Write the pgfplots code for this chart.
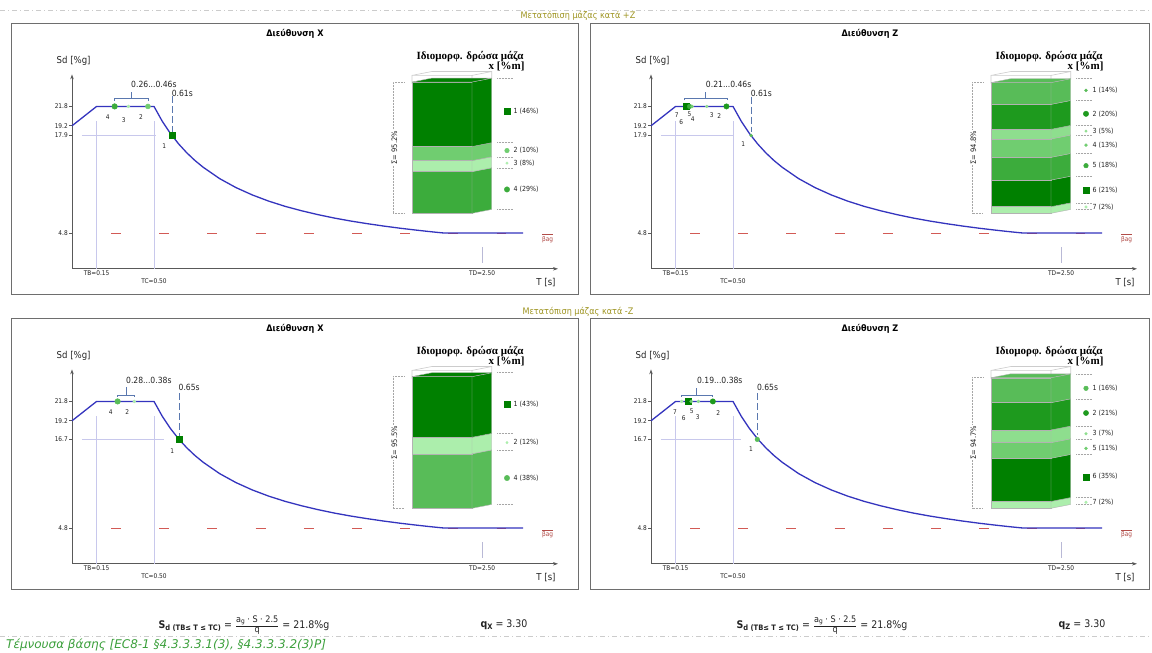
\documentclass[border=0pt]{standalone}
\usepackage{pgfplots}
\pgfplotsset{compat=1.18}
\usepackage{pgfplotstable}
\usepackage{fontspec}
\setmainfont{DejaVu Sans}[FakeStretch=0.9]
\newfontfamily\dvs{DejaVu Sans}
\newfontfamily\serifbf{Liberation Serif}
\usetikzlibrary{arrows.meta}

\definecolor{cblue}{RGB}{52,52,190}
\definecolor{clav}{RGB}{200,200,236}
\definecolor{cred}{RGB}{210,90,85}
\definecolor{ctxt}{RGB}{35,35,35}
\definecolor{colive}{RGB}{158,148,32}
\definecolor{cgreentxt}{RGB}{60,160,60}
\definecolor{cframe}{RGB}{110,110,110}
\definecolor{csteel}{RGB}{90,120,175}
\definecolor{G1}{RGB}{0,128,0}
\definecolor{G2}{RGB}{30,154,30}
\definecolor{G3}{RGB}{60,172,60}
\definecolor{G4}{RGB}{88,188,88}
\definecolor{G5}{RGB}{112,205,112}
\definecolor{G6}{RGB}{142,222,142}
\definecolor{G7}{RGB}{172,238,172}

\newcommand\fs[1]{\fontsize{#1}{#1}\selectfont}

\pgfplotstableread{
T Sd
0 19.2
0.15 21.8
0.5 21.8
0.55 19.82
0.6 18.17
0.65 16.77
0.7 15.57
0.75 14.53
0.8 13.63
0.9 12.11
1.0 10.9
1.1 9.91
1.2 9.08
1.3 8.38
1.4 7.79
1.5 7.27
1.6 6.81
1.7 6.41
1.8 6.06
1.9 5.74
2.0 5.45
2.1 5.19
2.2 4.95
2.27 4.8
2.75 4.8
}\curvedata

\pgfplotsset{
 mainax/.style={scale only axis, anchor=south west, width=486pt, height=194.4pt,
   xmin=0, xmax=2.963, ymin=0, ymax=26.1, axis lines=left,
   axis line style={draw=black!65, line width=0.8pt},
   x axis line style={-{Stealth[length=5pt,width=3.5pt]}},
   y axis line style={-{Stealth[length=5pt,width=3.5pt]}},
   xtick=\empty, tick align=outside, major tick length=3pt,
   tick style={draw=black!65, line width=0.6pt},
   yticklabel style={font=\fs{6.5}, text=ctxt, inner sep=1pt},
   /pgf/number format/assume math mode=true, clip=false},
 barax/.style={scale only axis, anchor=south west, width=100pt, height=137.9pt,
   xmin=0, xmax=100, ymin=0, ymax=100, hide axis, clip=false},
}

\newcommand\maincommon[2]{%
 \addplot[cred, line width=1.1pt, dash pattern=on 10pt off 38.2pt] coordinates {(0.238,4.8) (2.646,4.8)};
 \draw[clav, line width=0.8pt] (axis cs:0.15,0) -- (axis cs:0.15,19.8);
 \draw[clav, line width=0.8pt] (axis cs:0.5,0) -- (axis cs:0.5,19.8);
 \draw[clav, line width=0.8pt] (axis cs:0.06,#1) -- (axis cs:#2,#1);
 \draw[clav!80!gray, line width=1pt] (axis cs:2.5,0.8) -- (axis cs:2.5,2.9);
 \addplot[cblue, line width=1.3pt, line join=round] table {\curvedata};
 \node[font=\fs{6.5}, text=ctxt] at (axis cs:0.15,-0.6) {TB=0.15};
 \node[font=\fs{6.5}, text=ctxt] at (axis cs:0.5,-1.65) {TC=0.50};
 \node[font=\fs{6.5}, text=ctxt] at (axis cs:2.5,-0.6) {TD=2.50};
 \node[font=\fs{9.5}, text=ctxt] at (axis cs:2.89,-1.87) {T [s]};
 \node[font=\fs{9.5}, text=ctxt] at (axis cs:0.01,27.9) {Sd [\%g]};
 \node[text=cred!85!black, font=\fs{6.5}] at (axis cs:2.90,4.1) {$\overline{\hbox{βag}}$};
}
\newcommand\ml[3]{\node[font=\fs{6.5}, text=ctxt, inner sep=0pt] at (axis cs:#1,#2) {#3};}
\newcommand\bracket[6]{%
 \draw[csteel, line width=0.7pt] (axis cs:#1,#4) -- (axis cs:#1,#3) -- (axis cs:#2,#3) -- (axis cs:#2,#4) (axis cs:#5,#3) -- (axis cs:#5,#6);
}
\newcommand\tdash[3]{\draw[csteel, line width=0.7pt, dash pattern=on 7pt off 3pt] (axis cs:#1,#2) -- (axis cs:#1,#3);}
\newcommand\mk[4]{\addplot[only marks, mark=#1, mark size=#2, color=#3] coordinates {#4};}

\newcommand\seg[5]{%
 \addplot[fill=#5, draw=black!30, line width=0.4pt] coordinates {(0,#1) (60,#1) (60,#2) (0,#2) (0,#1)};
 \addplot[fill=#5, draw=black!30, line width=0.4pt] coordinates {(60,#1) (79.7,#3) (79.7,#4) (60,#2) (60,#1)};
}
\newcommand\topface[3]{%
 \addplot[fill=#3, draw=black!30, line width=0.4pt] coordinates {(0,#1) (60,#1) (79.7,#2) (19.7,#2) (0,#1)};
}
\newcommand\leg[5]{%
 \addplot[only marks, mark=#2, mark size=#3, color=#4] coordinates {(95,#1)};
 \node[anchor=west, font=\fs{7}, text=ctxt, inner sep=0pt] at (axis cs:101.5,#1) {#5};
}
\newcommand\sep[1]{\draw[black!35, densely dotted, line width=0.5pt] (axis cs:85,#1) -- (axis cs:101,#1);}
\newcommand\wire{%
 \draw[black!20, line width=0.6pt] (axis cs:0,94) -- (axis cs:0,100) -- (axis cs:60,100) -- (axis cs:60,94) (axis cs:60,100) -- (axis cs:79.7,102.8) -- (axis cs:79.7,97) (axis cs:0,100) -- (axis cs:19.7,102.8) -- (axis cs:79.7,102.8);
}
\newcommand\sigmabr[2]{%
 \draw[black!35, densely dotted, line width=0.5pt] (axis cs:-8,#1) -- (axis cs:-19,#1) -- (axis cs:-19,0) -- (axis cs:-8,0);
 \node[rotate=90, fill=white, inner sep=0.8pt, font=\fs{7.5}, text=ctxt] at (axis cs:-17.5,47.5) {#2};
}
\newcommand\bartitle[2]{%
 \node[font=\serifbf\bfseries\fs{11}, text=black] at (#1pt,#2pt) {Ιδιομορφ. δρώσα μάζα};
}
\newcommand\barsub[2]{%
 \node[font=\serifbf\bfseries\fs{11}, text=black, anchor=east] at (#1pt,#2pt) {x [\%m]};
}
\newcommand\sdformula{\textbf{S}\raisebox{-2pt}{\fs{7.5}\textbf{d (TB≤ T ≤ TC)}} = $\frac{\hbox{\fs{9}a\raisebox{-1.2pt}{\fs{6.5}g} · S · 2.5}}{\hbox{\fs{9}q}}$ = 21.8\%g}

\begin{document}
\begin{tikzpicture}
\useasboundingbox (0pt,0pt) rectangle (1152pt,-653pt);
\fill[white] (0pt,0pt) rectangle (1152pt,-653pt);
% separators and group titles
\draw[black!20, dash pattern=on 5pt off 3pt on 1pt off 3pt, line width=0.6pt] (0pt,-10pt) -- (1152pt,-10pt);
\draw[black!20, dash pattern=on 5pt off 3pt on 1pt off 3pt, line width=0.6pt] (0pt,-636pt) -- (1152pt,-636pt);
\node[text=colive, font=\fs{9}] at (578pt,-16pt) {Μετατόπιση μάζας κατά +Z};
\node[text=colive, font=\fs{9}] at (578pt,-312pt) {Μετατόπιση μάζας κατά -Z};
% frames
\draw[cframe, line width=0.8pt] (11pt,-23pt) rectangle (578pt,-294pt);
\draw[cframe, line width=0.8pt] (590pt,-23pt) rectangle (1149pt,-294pt);
\draw[cframe, line width=0.8pt] (11pt,-318pt) rectangle (578pt,-589pt);
\draw[cframe, line width=0.8pt] (590pt,-318pt) rectangle (1149pt,-589pt);
% panel titles
\node[font=\fs{9}\bfseries, text=black] at (295pt,-34pt) {Διεύθυνση X};
\node[font=\fs{9}\bfseries, text=black] at (870pt,-34pt) {Διεύθυνση Z};
\node[font=\fs{9}\bfseries, text=black] at (295pt,-329pt) {Διεύθυνση X};
\node[font=\fs{9}\bfseries, text=black] at (870pt,-329pt) {Διεύθυνση Z};
% bar titles
\bartitle{470}{-57}\barsub{528}{-66}
\bartitle{1049}{-57}\barsub{1107}{-66}
\bartitle{470}{-352}\barsub{528}{-361}
\bartitle{1049}{-352}\barsub{1107}{-361}

%================ TOP LEFT =================
\begin{axis}[mainax, at={(72pt,-268.8pt)}, ytick={4.8,17.9,19.2,21.8}]
 \maincommon{17.9}{0.512}
 \bracket{0.26}{0.463}{22.83}{22.55}{0.36}{23.77}
 \tdash{0.61}{23.2}{18.4}
 \mk{*}{2.8pt}{G3}{(0.26,21.8)}
 \mk{*}{1.5pt}{G7}{(0.344,21.8)}
 \mk{*}{2.5pt}{G5}{(0.463,21.8)}
 \mk{square*}{3pt}{G1}{(0.61,17.9)}
 \ml{0.218}{20.42}{4}
 \ml{0.315}{19.93}{3}
 \ml{0.421}{20.42}{2}
 \ml{0.563}{16.44}{1}
 \node[anchor=west, inner sep=0pt, font=\fs{8.5}, text=ctxt] at (axis cs:0.36,24.8) {0.26...0.46s};
 \node[anchor=west, inner sep=0pt, font=\fs{8.5}, text=ctxt] at (axis cs:0.607,23.6) {0.61s};
\end{axis}
\begin{axis}[barax, at={(412pt,-213.3pt)}]
 \wire
 \seg{0}{30.2}{2.8}{33}{G3}
 \seg{30.2}{38.2}{33}{41}{G7}
 \seg{38.2}{48.4}{41}{51.2}{G5}
 \seg{48.4}{95.2}{51.2}{98}{G1}
 \topface{95.2}{98}{G1}
 \sep{98}\sep{51.2}\sep{41}\sep{33}\sep{2.8}
 \leg{74}{square*}{3pt}{G1}{1 (46\%)}
 \leg{45.5}{*}{2.3pt}{G5}{2 (10\%)}
 \leg{36.4}{*}{1.3pt}{G7}{3 (8\%)}
 \leg{17.3}{*}{2.7pt}{G3}{4 (29\%)}
 \sigmabr{95.2}{Σ= 95.2\%}
\end{axis}

%================ TOP RIGHT =================
\begin{axis}[mainax, at={(651pt,-268.8pt)}, ytick={4.8,17.9,19.2,21.8}]
 \maincommon{17.9}{0.506}
 \bracket{0.203}{0.465}{22.9}{22.6}{0.334}{23.8}
 \tdash{0.61}{23.1}{18.4}
 \mk{*}{1.3pt}{G7}{(0.205,21.8)}
 \mk{square*}{3pt}{G1}{(0.212,21.8)}
 \mk{*}{2.3pt}{G3}{(0.235,21.8)}
 \mk{*}{1.6pt}{G5}{(0.25,21.8)}
 \mk{*}{1.4pt}{G6}{(0.34,21.8)}
 \mk{*}{2.7pt}{G2}{(0.46,21.8)}
 \mk{*}{1.5pt}{G4}{(0.61,17.9)}
 \ml{0.157}{20.6}{7}
 \ml{0.185}{19.66}{6}
 \ml{0.234}{20.78}{5}
 \ml{0.254}{20.15}{4}
 \ml{0.37}{20.6}{3}
 \ml{0.416}{20.5}{2}
 \ml{0.563}{16.75}{1}
 \node[anchor=west, inner sep=0pt, font=\fs{8.5}, text=ctxt] at (axis cs:0.334,24.8) {0.21...0.46s};
 \node[anchor=west, inner sep=0pt, font=\fs{8.5}, text=ctxt] at (axis cs:0.607,23.6) {0.61s};
\end{axis}
\begin{axis}[barax, at={(991pt,-213.3pt)}]
 \wire
 \seg{0}{4.8}{2.8}{7.6}{G7}
 \seg{4.8}{24.1}{7.6}{26.9}{G1}
 \seg{24.1}{40.6}{26.9}{43.4}{G3}
 \seg{40.6}{53.9}{43.4}{56.7}{G5}
 \seg{53.9}{60.9}{56.7}{63.7}{G6}
 \seg{60.9}{79.0}{63.7}{81.8}{G2}
 \seg{79.0}{94.8}{81.8}{97.6}{G4}
 \topface{94.8}{97.6}{G4}
 \sep{97.6}\sep{81.8}\sep{63.7}\sep{56.7}\sep{43.4}\sep{26.9}\sep{7.6}\sep{2.8}
 \leg{89.1}{*}{1.5pt}{G4}{1 (14\%)}
 \leg{72.15}{*}{2.7pt}{G2}{2 (20\%)}
 \leg{59.6}{*}{1.3pt}{G6}{3 (5\%)}
 \leg{49.45}{*}{1.5pt}{G5}{4 (13\%)}
 \leg{34.55}{*}{2.3pt}{G3}{5 (18\%)}
 \leg{16.65}{square*}{3pt}{G1}{6 (21\%)}
 \leg{4.6}{*}{1.3pt}{G7}{7 (2\%)}
 \sigmabr{94.8}{Σ= 94.8\%}
\end{axis}

%================ BOTTOM LEFT =================
\begin{axis}[mainax, at={(72pt,-563.8pt)}, ytick={4.8,16.7,19.2,21.8}]
 \maincommon{16.7}{0.56}
 \bracket{0.276}{0.382}{22.66}{22.4}{0.329}{23.77}
 \tdash{0.652}{22.9}{17.2}
 \mk{*}{2.8pt}{G4}{(0.278,21.8)}
 \mk{*}{1.5pt}{G7}{(0.38,21.8)}
 \mk{square*}{3pt}{G1}{(0.652,16.7)}
 \ml{0.236}{20.34}{4}
 \ml{0.337}{20.34}{2}
 \ml{0.611}{15.18}{1}
 \node[anchor=west, inner sep=0pt, font=\fs{8.5}, text=ctxt] at (axis cs:0.329,24.58) {0.28...0.38s};
 \node[anchor=west, inner sep=0pt, font=\fs{8.5}, text=ctxt] at (axis cs:0.649,23.7) {0.65s};
\end{axis}
\begin{axis}[barax, at={(412pt,-508.3pt)}]
 \wire
 \seg{0}{39.5}{2.8}{42.3}{G4}
 \seg{39.5}{51.5}{42.3}{54.3}{G7}
 \seg{51.5}{95.5}{54.3}{98.3}{G1}
 \topface{95.5}{98.3}{G1}
 \sep{98.3}\sep{54.3}\sep{42.3}\sep{2.8}
 \leg{75.7}{square*}{3pt}{G1}{1 (43\%)}
 \leg{47.7}{*}{1.2pt}{G7}{2 (12\%)}
 \leg{21.95}{*}{2.7pt}{G4}{4 (38\%)}
 \sigmabr{95.5}{Σ= 95.5\%}
\end{axis}

%================ BOTTOM RIGHT =================
\begin{axis}[mainax, at={(651pt,-563.8pt)}, ytick={4.8,16.7,19.2,21.8}]
 \maincommon{16.7}{0.55}
 \bracket{0.187}{0.376}{22.66}{22.4}{0.279}{23.56}
 \tdash{0.648}{22.9}{17.3}
 \mk{*}{1.5pt}{G7}{(0.187,21.8)}
 \mk{square*}{3pt}{G1}{(0.228,21.8)}
 \mk{*}{1.6pt}{G5}{(0.245,21.8)}
 \mk{*}{1.5pt}{G6}{(0.289,21.8)}
 \mk{*}{2.7pt}{G2}{(0.377,21.8)}
 \mk{*}{2.3pt}{G4}{(0.648,16.7)}
 \ml{0.146}{20.42}{7}
 \ml{0.2}{19.6}{6}
 \ml{0.248}{20.55}{5}
 \ml{0.285}{19.74}{3}
 \ml{0.41}{20.28}{2}
 \ml{0.61}{15.37}{1}
 \node[anchor=west, inner sep=0pt, font=\fs{8.5}, text=ctxt] at (axis cs:0.28,24.58) {0.19...0.38s};
 \node[anchor=west, inner sep=0pt, font=\fs{8.5}, text=ctxt] at (axis cs:0.645,23.7) {0.65s};
\end{axis}
\begin{axis}[barax, at={(991pt,-508.3pt)}]
 \wire
 \seg{0}{5.0}{2.8}{7.8}{G7}
 \seg{5.0}{36.3}{7.8}{39.1}{G1}
 \seg{36.3}{47.6}{39.1}{50.4}{G5}
 \seg{47.6}{56.8}{50.4}{59.6}{G6}
 \seg{56.8}{76.6}{59.6}{79.4}{G2}
 \seg{76.6}{94.7}{79.4}{97.5}{G4}
 \topface{94.7}{97.5}{G4}
 \sep{97.5}\sep{79.4}\sep{59.6}\sep{50.4}\sep{39.1}\sep{7.8}\sep{2.8}
 \leg{87.0}{*}{2.3pt}{G4}{1 (16\%)}
 \leg{69.1}{*}{2.6pt}{G2}{2 (21\%)}
 \leg{54.1}{*}{1.4pt}{G6}{3 (7\%)}
 \leg{43.5}{*}{1.5pt}{G5}{5 (11\%)}
 \leg{22.9}{square*}{3pt}{G1}{6 (35\%)}
 \leg{4.4}{*}{1.3pt}{G7}{7 (2\%)}
 \sigmabr{94.7}{Σ= 94.7\%}
\end{axis}

% bottom formulas
\node[font=\fs{10.5}, text=ctxt] at (244pt,-625pt) {\sdformula};
\node[font=\fs{10.5}, text=ctxt] at (504pt,-625pt) {\textbf{q}\raisebox{-2pt}{\fs{7.5}\textbf{X}} = 3.30};
\node[font=\fs{10.5}, text=ctxt] at (822pt,-625pt) {\sdformula};
\node[font=\fs{10.5}, text=ctxt] at (1082pt,-625pt) {\textbf{q}\raisebox{-2pt}{\fs{7.5}\textbf{Z}} = 3.30};
\node[anchor=west, font=\dvs\fs{12}\itshape, text=cgreentxt, inner sep=0pt] at (6pt,-645pt) {Τέμνουσα βάσης [EC8-1 §4.3.3.3.1(3), §4.3.3.3.2(3)P]};
\end{tikzpicture}
\end{document}
